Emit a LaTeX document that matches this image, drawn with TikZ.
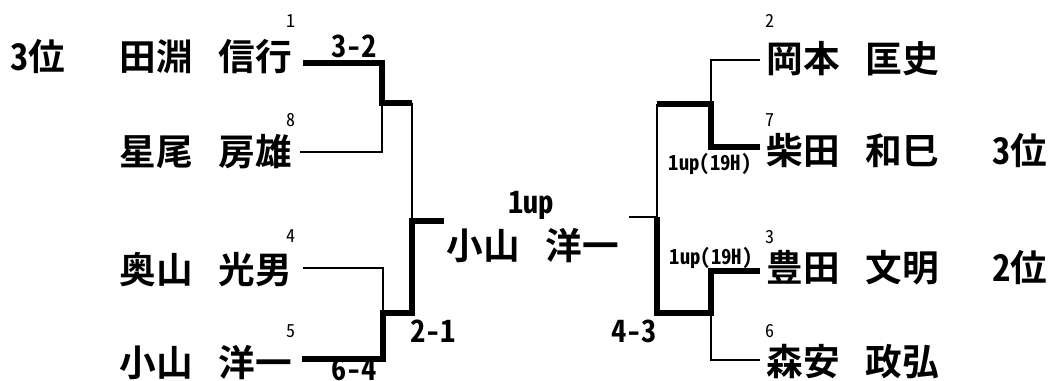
\documentclass[tikz,border=0pt]{standalone}
\usepackage{fontspec}
\setmainfont{Noto Sans CJK JP}[BoldFont={Noto Sans CJK JP Bold},RawFeature=+hwid]
\newcommand{\pname}[2]{#1\hspace{0.7em}#2}

\tikzset{every picture/.style={line width=0.75pt}}

\begin{document}
\begin{tikzpicture}[x=0.75pt,y=0.75pt,yscale=-1,xscale=1,
    nm/.style={anchor=west,inner sep=0pt,font=\fontsize{27.5}{27.5}\selectfont\bfseries},
    seed/.style={inner sep=0pt,font=\fontsize{13.5}{13.5}\selectfont},
    score/.style={inner sep=0pt,font=\fontsize{23}{23}\selectfont\bfseries},
    hole/.style={inner sep=0pt,font=\fontsize{15.5}{15.5}\selectfont\bfseries},
    won/.style={line width=5pt},
    lost/.style={line width=1.8pt}]
\useasboundingbox (0,0) rectangle (1051,381);

% Players left
\node[nm] (rk1) at (10,57) {3位};
\node[nm] (p1) at (119,57) {\pname{田淵}{信行}};
\node[nm] (p8) at (119,152) {\pname{星尾}{房雄}};
\node[nm] (p4) at (119,270) {\pname{奥山}{光男}};
\node[nm] (p5) at (119,363) {\pname{小山}{洋一}};
% Players right
\node[nm] (p2) at (766,59) {\pname{岡本}{匡史}};
\node[nm] (p7) at (766,151) {\pname{柴田}{和巳}};
\node[nm] (p3) at (766,268) {\pname{豊田}{文明}};
\node[nm] (p6) at (766,362) {\pname{森安}{政弘}};
\node[nm] (rk2) at (992,151) {3位};
\node[nm] (rk3) at (992,268) {2位};
% Champion
\node[nm] (ch) at (446,246) {\pname{小山}{洋一}};

% Seeds
\node[seed] (s1) at (291,21) {1};
\node[seed] (s8) at (291,120) {8};
\node[seed] (s4) at (291,236) {4};
\node[seed] (s5) at (291,331) {5};
\node[seed] (s2) at (770,21) {2};
\node[seed] (s7) at (770,120) {7};
\node[seed] (s3) at (770,237) {3};
\node[seed] (s6) at (770,331) {6};

% Results
\node[score] (r1) at (354,46) {3-2};
\node[score] (r2) at (354,369) {6-4};
\node[score] (r3) at (433,331) {2-1};
\node[score] (r4) at (634,331) {4-3};
\node[score] (r5) at (531,205) {1up};
\node[hole] (r6) at (710,164) {1up(19H)};
\node[hole] (r7) at (711,258) {1up(19H)};

% Bracket left
\coordinate (a1) at (303,63);
\coordinate (a8) at (300,152);
\coordinate (a4) at (303,268);
\coordinate (a5) at (302,359);
\coordinate (m18) at (382,103);
\coordinate (m45) at (383,313);
\coordinate (q1) at (412,103);
\coordinate (q2) at (412,313);
\coordinate (f1) at (444,221);
\draw[won] (a1) -| (m18) -- (q1);
\draw[lost] (a8) -| (m18);
\draw[lost] (q1) -- (q1 |- f1);
\draw[lost] (a4) -| (m45);
\draw[won] (a5) -| (m45) -- (q2) |- (f1);

% Bracket right
\coordinate (b2) at (760,60);
\coordinate (b7) at (760,147);
\coordinate (b3) at (760,271);
\coordinate (b6) at (760,360);
\coordinate (m27) at (711,104);
\coordinate (m36) at (711,313);
\coordinate (q3) at (657,104);
\coordinate (q4) at (657,313);
\coordinate (f2) at (629,217);
\draw[lost] (b2) -| (m27);
\draw[won] (b7) -| (m27) -- (q3);
\draw[lost] (q3) |- (f2);
\draw[won] (b3) -| (m36) -- (q4) -- (q4 |- f2);
\draw[lost] (b6) -| (m36);

\end{tikzpicture}
\end{document}
